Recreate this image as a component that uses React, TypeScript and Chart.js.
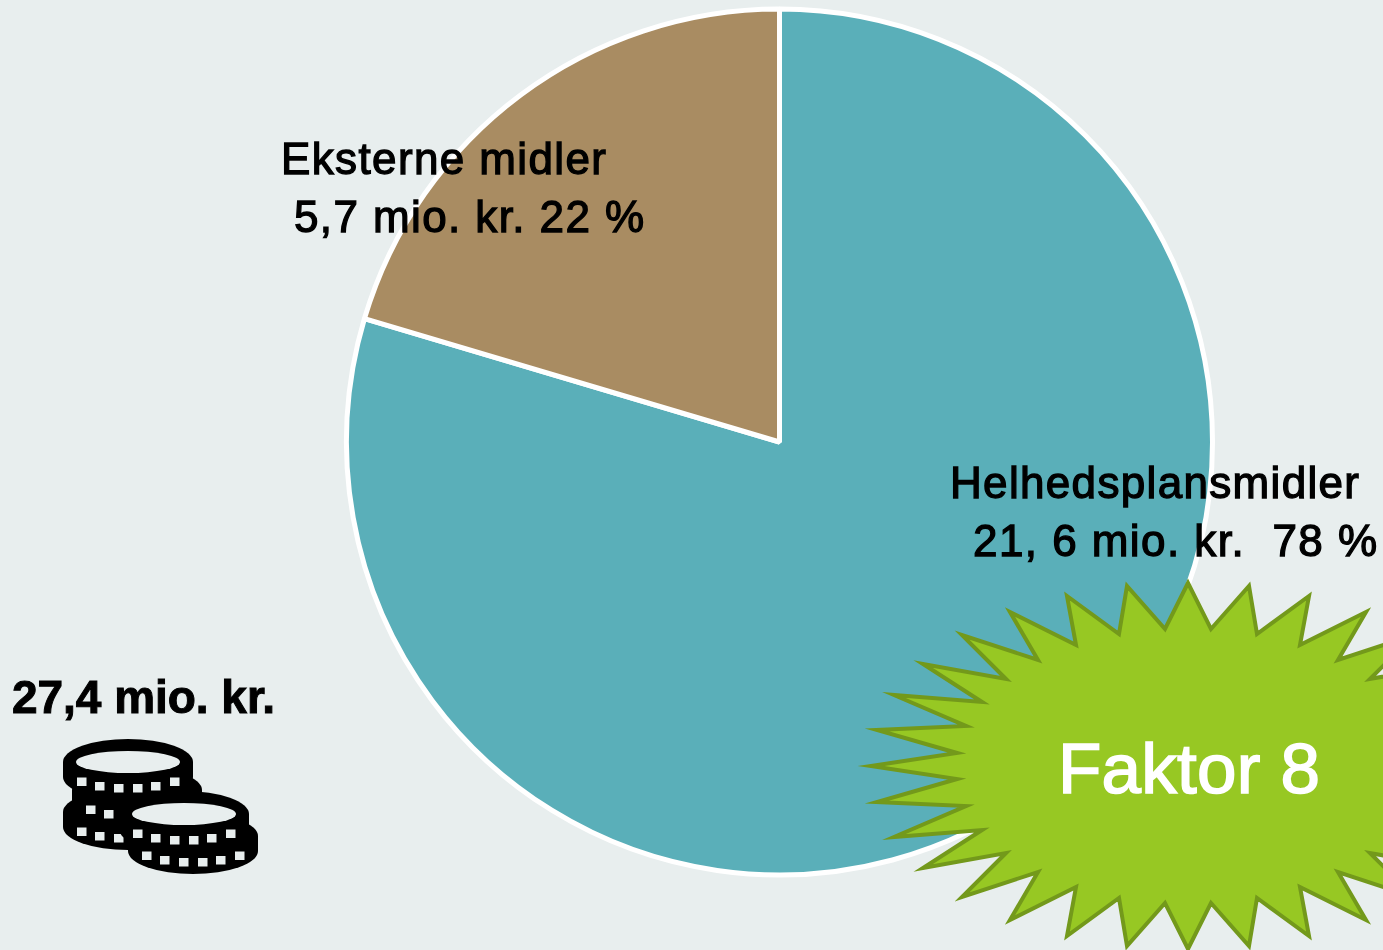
import React, { useEffect, useRef } from "react";
import { Chart, registerables } from "chart.js";

Chart.register(...registerables);

const categories = ["Helhedsplansmidler", "Eksterne midler"];
// Shares
const shares = [79.6, 20.4];
const sliceColors = ["#5AAFB9", "#A98C62"];

const FONT = "'Liberation Sans', Arial, sans-serif";
const BG = "#E8EEEE";

// Starburst: alternating tip / notch, left half from top to bottom centre line
const burstCx = 1188;
const burstCy = 766;
const burstUpperLeft: [number, number][] = [
  [0, 183], [23, 137], [61, 180], [69, 132], [121, 170], [112, 121], [178, 154], [150, 106],
  [226, 131], [182, 87], [265, 102], [206, 64], [294, 71], [222, 40], [311, 36], [231, 13],
  [317, 0],
];

function burstPoints(): string {
  const ul = burstUpperLeft;
  const pts: [number, number][] = [];
  ul.forEach(([x, y]) => pts.push([-x, -y]));
  ul.slice(0, -1).reverse().forEach(([x, y]) => pts.push([-x, y]));
  ul.slice(1).forEach(([x, y]) => pts.push([x, y]));
  ul.slice(1, -1).reverse().forEach(([x, y]) => pts.push([x, -y]));
  return pts.map(([x, y]) => `${burstCx + x},${burstCy + y}`).join(" ");
}

const dashX = [-51, -33, -14, 5, 23, 42];
const dashY = [15.5, 20, 22, 22, 20, 15.5];

function Coin({ cx, top, hole = false }: { cx: number; top: number; hole?: boolean }) {
  const rx = 65;
  const ry = 23;
  const cy = top + ry;
  const body = 15;
  const d = `M${cx - rx},${cy} A${rx},${ry} 0 0 1 ${cx + rx},${cy} L${cx + rx},${cy + body} A${rx},${ry} 0 0 1 ${cx - rx},${cy + body} Z`;
  return (
    <g>
      <path d={d} fill="#000" />
      {hole ? <ellipse cx={cx} cy={cy} rx={52} ry={11} fill={BG} /> : null}
      {dashX.map((dx, i) => (
        <rect key={i} x={cx + dx} y={cy + dashY[i]} width={9.5} height={8.5} fill={BG} />
      ))}
    </g>
  );
}

function Label({ x, y, w, size, weight, children, fill = "#000", stroke = 1.3 }: any) {
  return (
    <text
      x={x}
      y={y}
      textLength={w}
      lengthAdjust="spacing"
      fontFamily={FONT}
      fontSize={size}
      fontWeight={weight}
      fill={fill}
      stroke={fill}
      strokeWidth={stroke}
      xmlSpace="preserve"
      style={{ whiteSpace: "pre" }}
    >
      {children}
    </text>
  );
}

export default function App() {
  const ref = useRef<HTMLCanvasElement>(null);
  useEffect(() => {
    document.documentElement.style.overflow = "hidden";
    const chart = new Chart(ref.current!, {
      type: "pie",
      data: {
        labels: categories,
        datasets: [
          {
            data: shares,
            backgroundColor: sliceColors,
            borderColor: "#FFFFFF",
            borderWidth: 5,
          },
        ],
      },
      options: {
        responsive: false,
        animation: false,
        layout: { padding: { left: 344, right: 168, top: 6, bottom: 72 } },
        plugins: { legend: { display: false }, tooltip: { enabled: false } },
      },
    });
    return () => chart.destroy();
  }, []);
  return (
    <div style={{ position: "fixed", left: 0, top: 0, width: 1383, height: 950, background: BG, overflow: "hidden" }}>
      <canvas ref={ref} width={1383} height={950} style={{ position: "absolute", left: 0, top: 0 }} />
      <svg width={1383} height={950} style={{ position: "absolute", left: 0, top: 0 }}>
        <polygon points={burstPoints()} fill="#97C823" stroke="#73991B" strokeWidth={4} strokeLinejoin="miter" strokeMiterlimit={20} />
        <Label x={281} y={174} w={325} size={44} weight={400}>Eksterne midler</Label>
        <Label x={294} y={232} w={350} size={44} weight={400}>5,7 mio. kr. 22 %</Label>
        <Label x={950} y={498} w={409} size={44} weight={400}>Helhedsplansmidler</Label>
        <Label x={973} y={556} w={404} size={44} weight={400}>21, 6 mio. kr.  78 %</Label>
        <Label x={1058} y={793} w={262} size={71} weight={400} fill="#FFFFFF" stroke={1.6}>Faktor 8</Label>
        <Label x={12} y={713} w={263} size={46} weight={700} stroke={1}>27,4 mio. kr.</Label>
        <Coin cx={128} top={789} />
        <Coin cx={137} top={767} />
        <Coin cx={128} top={739} hole />
        <Coin cx={193} top={813} />
        <Coin cx={184} top={791} hole />
      </svg>
    </div>
  );
}
